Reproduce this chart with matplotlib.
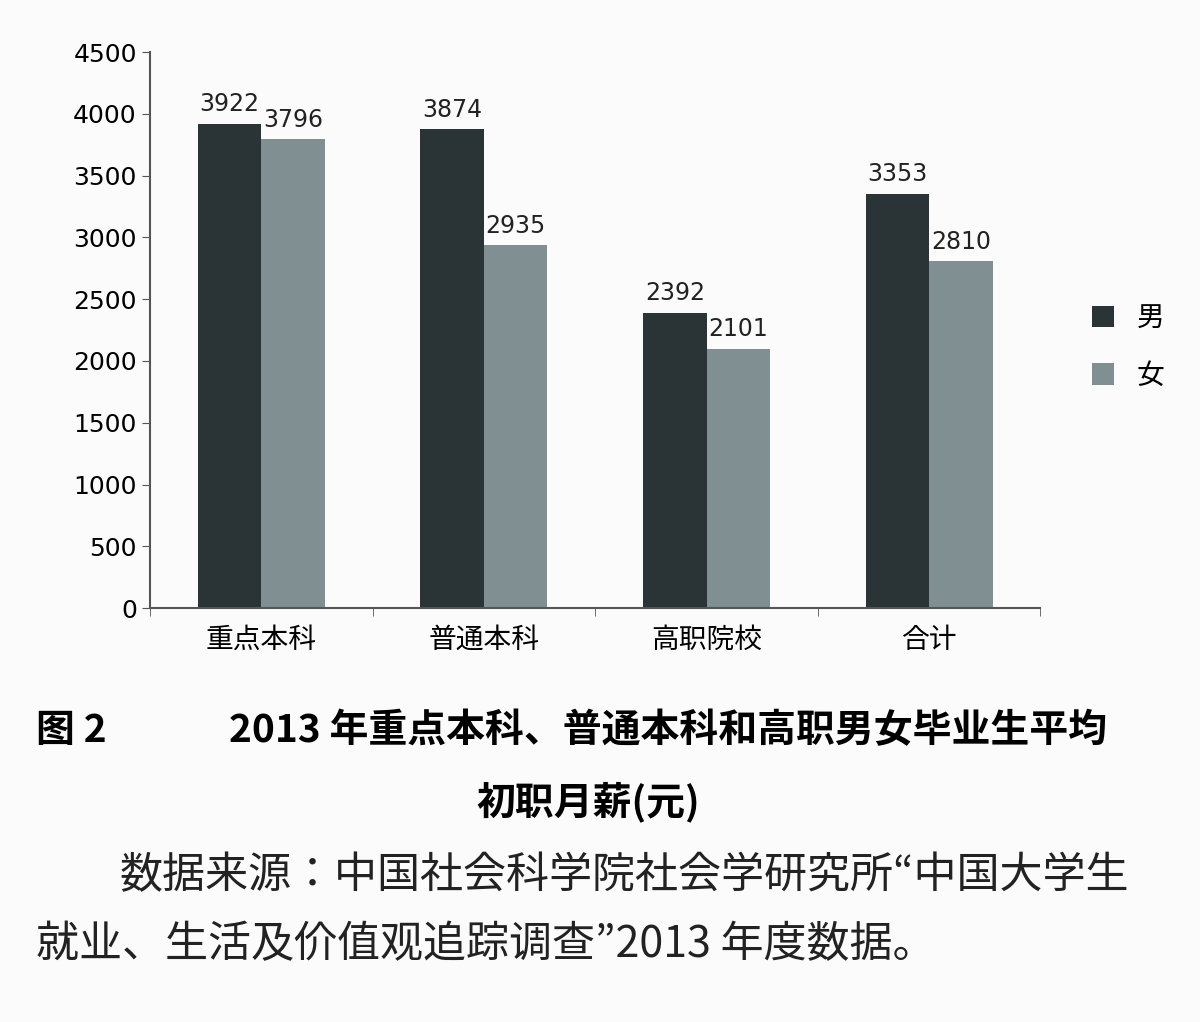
import matplotlib.pyplot as plt
from matplotlib import font_manager
import numpy as np

# pick whatever CJK face the font manager actually registered
cjk = [f.name for f in font_manager.fontManager.ttflist if 'CJK' in f.name]
fam = 'Noto Sans CJK SC' if 'Noto Sans CJK SC' in cjk else (cjk[0] if cjk else 'DejaVu Sans')
plt.rcParams['font.family'] = fam

categories = ['重点本科', '普通本科', '高职院校', '合计']
male = [3922, 3874, 2392, 3353]
female = [3796, 2935, 2101, 2810]
yticks = [0, 500, 1000, 1500, 2000, 2500, 3000, 3500, 4000, 4500]

fig = plt.figure(figsize=(12, 10.22), dpi=100)
fig.patch.set_facecolor('#fbfbfb')
ax = fig.add_axes([0.125, 0.405, 0.742, 0.544])
ax.set_facecolor('#fbfbfb')

x = np.arange(len(categories))
w = 0.285
b1 = ax.bar(x - w / 2, male, w, color='#2a3436', label='男')
b2 = ax.bar(x + w / 2, female, w, color='#7f8f92', label='女')
for bars in (b1, b2):
    for r in bars:
        ax.text(r.get_x() + r.get_width() / 2, r.get_height() + 60, str(int(r.get_height())),
                ha='center', va='bottom', fontsize=17, color='#222222', family='DejaVu Sans')

ax.set_xlim(-0.5, 3.5)
ax.set_ylim(0, 4500)
ax.set_yticks(yticks)
ax.set_yticklabels([str(t) for t in yticks], family='DejaVu Sans', fontsize=18)
ax.set_xticks(x)
ax.set_xticklabels(categories, fontsize=20)
ax.set_xticks(np.arange(-0.5, 4, 1), minor=True)
ax.tick_params(axis='x', which='major', length=0, pad=12)
ax.tick_params(axis='x', which='minor', length=6, color='#555555')
ax.tick_params(axis='y', length=6, color='#555555')
for s in ['top', 'right']:
    ax.spines[s].set_visible(False)
for s in ['left', 'bottom']:
    ax.spines[s].set_color('#555555')
    ax.spines[s].set_linewidth(1.5)

ax.legend(loc='center left', bbox_to_anchor=(1.03, 0.47), frameon=False,
          prop={'size': 20}, handlelength=0.8, handleheight=0.8, labelspacing=1.0)

fig.text(0.03, 0.285, '图 2', fontsize=28, fontweight='bold', va='center')
fig.text(0.557, 0.285, '2013 年重点本科、普通本科和高职男女毕业生平均', fontsize=28,
         fontweight='bold', ha='center', va='center')
fig.text(0.49, 0.215, '初职月薪(元)', fontsize=28, fontweight='bold',
         ha='center', va='center')
fig.text(0.1, 0.143, '数据来源：中国社会科学院社会学研究所“中国大学生', fontsize=31,
         va='center', color='#222222')
fig.text(0.03, 0.075, '就业、生活及价值观追踪调查”2013 年度数据。', fontsize=31,
         va='center', color='#222222')

fig.savefig('out.png', dpi=100, facecolor=fig.get_facecolor())
